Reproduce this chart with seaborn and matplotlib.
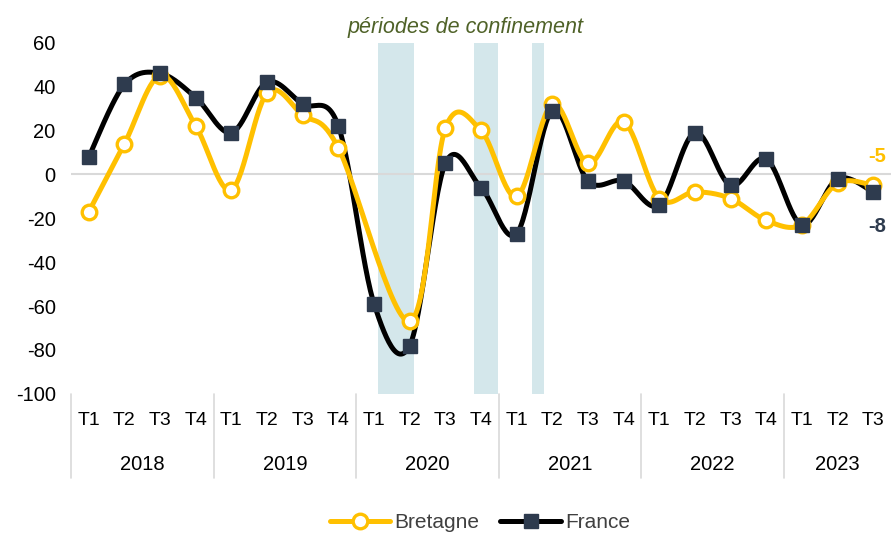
import numpy as np
import pandas as pd
import matplotlib
matplotlib.use("Agg")
import matplotlib.pyplot as plt
import matplotlib.transforms as mtransforms
from matplotlib.lines import Line2D
import seaborn as sns

#%% data
years = ['2018', '2019', '2020', '2021', '2022', '2023']
quarters = ['T1', 'T2', 'T3', 'T4'] * 5 + ['T1', 'T2', 'T3']
bretagne = [-17, 14, 45, 22, -7, 37, 27, 12, np.nan, -67, 21, 20,
            -10, 32, 5, 24, -11, -8, -11, -21, -23, -4, -5]
france = [8, 41, 46, 35, 19, 42, 32, 22, -59, -78, 5, -6,
          -27, 29, -3, -3, -14, 19, -5, 7, -23, -2, -8]
# lockdown periods, in quarter positions
confinement = [(8.12, 9.13), (10.81, 11.48), (12.44, 12.77)]

df = pd.DataFrame({'quarter': quarters, 'Bretagne': bretagne, 'France': france})
df['pos'] = np.arange(len(df))

yellow = '#FFC000'
navy = '#2E3B4E'


def smooth(x, y, n=30):
    # catmull-rom style smoothing, like excel's smoothed lines
    x = np.asarray(x, float)
    y = np.asarray(y, float)
    px = np.concatenate([[x[0]], x, [x[-1]]])
    py = np.concatenate([[y[0]], y, [y[-1]]])
    t = np.linspace(0, 1, n)[:, None]
    xs, ys = [], []
    for i in range(1, len(px) - 2):
        p0 = np.array([px[i], py[i]])
        p3 = np.array([px[i + 1], py[i + 1]])
        c1 = p0 + (p3 - np.array([px[i - 1], py[i - 1]])) / 6
        c2 = p3 - (np.array([px[i + 2], py[i + 2]]) - p0) / 6
        b = ((1 - t) ** 3) * p0 + 3 * ((1 - t) ** 2) * t * c1 + 3 * (1 - t) * t ** 2 * c2 + t ** 3 * p3
        xs.append(b[:, 0])
        ys.append(b[:, 1])
    return np.concatenate(xs), np.concatenate(ys)


sns.set_theme(style='white')
plt.rcParams['font.family'] = ['Liberation Sans', 'DejaVu Sans']

fig = plt.figure(figsize=(8.91, 5.33), dpi=100)
ax = fig.add_axes([0.0797, 0.261, 0.9203, 0.659])

for a, b in confinement:
    ax.axvspan(a, b, color='#D4E7EB', lw=0, zorder=0)

ax.axhline(0, color='#D9D9D9', lw=1.5, zorder=1)

fr = df.dropna(subset=['France'])
sx, sy = smooth(fr['pos'], fr['France'])
sns.lineplot(x=sx, y=sy, sort=False, estimator=None, color='black', lw=3.6, ax=ax, zorder=3)
br = df.dropna(subset=['Bretagne'])
sx, sy = smooth(br['pos'], br['Bretagne'])
sns.lineplot(x=sx, y=sy, sort=False, estimator=None, color=yellow, lw=3.6, ax=ax, zorder=4)

ax.plot(br['pos'], br['Bretagne'], ls='none', marker='o', ms=10.5, mfc='white',
        mec=yellow, mew=2.4, zorder=5)
ax.plot(fr['pos'], fr['France'], ls='none', marker='s', ms=9.5, mfc=navy,
        mec=navy, zorder=6)

ax.set_xlim(-0.5, len(df) - 0.5)
ax.set_ylim(-100, 60)
ax.set_yticks(range(-100, 61, 20))
ax.set_yticklabels([str(v) for v in range(-100, 61, 20)], fontsize=14.5, color='black')
ax.tick_params(axis='y', length=0, pad=11)
ax.set_xticks(df['pos'])
ax.set_xticklabels(quarters, fontsize=14, color='black')
ax.tick_params(axis='x', length=0, pad=13)
for s in ax.spines.values():
    s.set_visible(False)

trans = mtransforms.blended_transform_factory(ax.transData, ax.transAxes)
for i, yr in enumerate(years):
    start = i * 4 - 0.5
    end = min(i * 4 + 3.5, len(df) - 0.5)
    ax.text((start + end) / 2, -0.202, yr, transform=trans, ha='center', va='center',
            fontsize=14.5, color='black')
for b in [-0.5, 3.5, 7.5, 11.5, 15.5, 19.5]:
    ax.plot([b, b], [0, -0.239], transform=trans, color='#D9D9D9', lw=1.2, clip_on=False)

last = df.iloc[-1]
ax.annotate(f"{int(last['Bretagne'])}", (last['pos'], last['Bretagne']), xytext=(-3.5, 21),
            textcoords='offset points', ha='left', va='center', fontsize=14.5,
            fontweight='bold', color=yellow, annotation_clip=False)
ax.annotate(f"{int(last['France'])}", (last['pos'], last['France']), xytext=(-3.5, -25),
            textcoords='offset points', ha='left', va='center', fontsize=14.5,
            fontweight='bold', color=navy, annotation_clip=False)

fig.text(466 / 891, 1 - 27 / 533, 'périodes de confinement', ha='center', va='center',
         fontsize=15.5, style='italic', color='#4F6228')

handles = [
    Line2D([], [], color=yellow, lw=3.6, marker='o', ms=10.5, mfc='white', mec=yellow, mew=2.4),
    Line2D([], [], color='black', lw=3.6, marker='s', ms=9.5, mfc=navy, mec=navy),
]
fig.legend(handles, ['Bretagne', 'France'], loc='center', bbox_to_anchor=(480 / 891, 1 - 523 / 533),
           ncol=2, frameon=False, fontsize=15, handlelength=2.9, columnspacing=1.0,
           handletextpad=0.2, labelcolor='#404040')

fig.savefig('out.png', dpi=100)
